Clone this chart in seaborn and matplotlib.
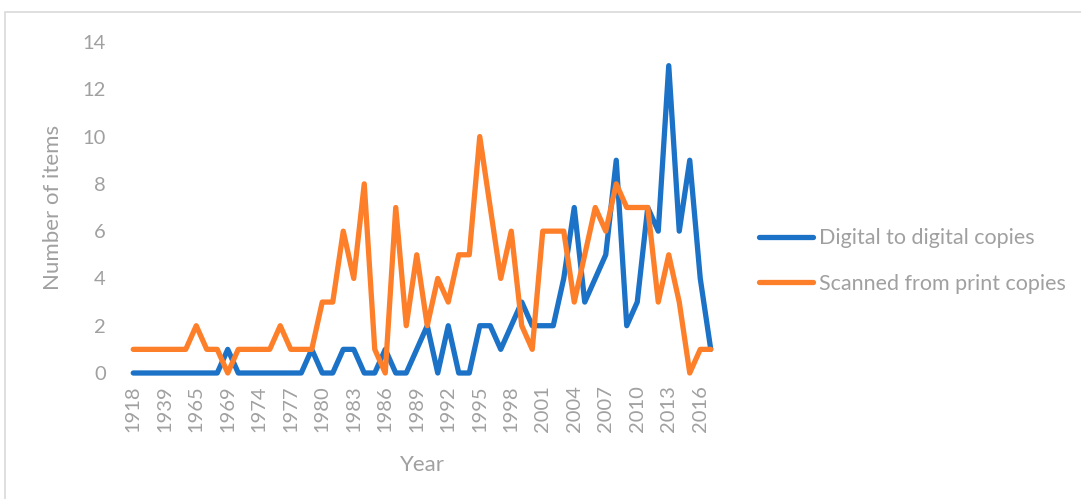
import matplotlib
matplotlib.use("Agg")
import matplotlib.pyplot as plt
import seaborn as sns
import pandas as pd
from matplotlib.patches import Rectangle
from matplotlib.lines import Line2D

years = ["1918", "1925", "1930", "1939", "1950", "1960", "1965", "1966", "1968",
         "1969", "1971", "1972", "1974", "1975", "1976", "1977", "1978", "1979"] + \
        [str(y) for y in range(1980, 2018)]

digital = [0, 0, 0, 0, 0, 0, 0, 0, 0, 1, 0, 0, 0, 0, 0, 0, 0, 1,
           0, 0, 1, 1, 0, 0, 1, 0, 0, 1, 2, 0, 2, 0, 0, 2, 2, 1, 2, 3, 2, 2,
           2, 4, 7, 3, 4, 5, 9, 2, 3, 7, 6, 13, 6, 9, 4, 1]

scanned = [1, 1, 1, 1, 1, 1, 2, 1, 1, 0, 1, 1, 1, 1, 2, 1, 1, 1,
           3, 3, 6, 4, 8, 1, 0, 7, 2, 5, 2, 4, 3, 5, 5, 10, 7, 4, 6, 2, 1, 6,
           6, 6, 3, 5, 7, 6, 8, 7, 7, 7, 3, 5, 3, 0, 1, 1]

series_names = ["Digital to digital copies", "Scanned from print copies"]
colors = ["#1b72c6", "#fe7f2a"]

df = pd.DataFrame({
    "Year": years * 2,
    "Count": digital + scanned,
    "Series": [series_names[0]] * len(years) + [series_names[1]] * len(years),
})

sns.set_theme(style="white")
plt.rcParams["font.family"] = ["Lato", "DejaVu Sans"]

W, H = 1081, 499
fig = plt.figure(figsize=(W / 100, H / 100), dpi=100)
ax = fig.add_axes([128 / W, 1 - 373 / H, (716 - 128) / W, (373 - 42) / H])

sns.lineplot(data=df, x="Year", y="Count", hue="Series", palette=colors,
             sort=False, linewidth=3.8, ax=ax, legend=False)
for ln in ax.lines:
    ln.set_clip_on(False)
    ln.set_solid_joinstyle("round")
    ln.set_solid_capstyle("round")

grey = "#a0a0a0"
ax.set_xlim(-0.5, len(years) - 0.5)
ax.set_ylim(0, 14)
ax.set_yticks(range(0, 15, 2))
ax.set_xticks(range(0, len(years), 3))
ax.set_xticklabels(years[::3], rotation=90)
ax.tick_params(axis="both", length=0, labelsize=14.5, colors=grey)
ax.tick_params(axis="x", pad=9)
ax.tick_params(axis="y", pad=16)
for s in ax.spines.values():
    s.set_visible(False)
ax.grid(False)

ax.set_xlabel("Year", fontsize=16, color=grey, labelpad=16)
ax.set_ylabel("Number of items", fontsize=16, color=grey, labelpad=14)

handles = [Line2D([0], [0], color=c, lw=3.8, solid_capstyle="round") for c in colors]
leg = fig.legend(handles, series_names, loc="center left",
                 bbox_to_anchor=(740 / W, 1 - 261 / H), frameon=False,
                 fontsize=15.5, handlelength=2.5, handletextpad=0.25,
                 labelspacing=1.2, labelcolor=grey)

fig.patches.append(Rectangle((5 / W, -0.05), 1.2, 1 - 12 / H + 0.05,
                             transform=fig.transFigure, fill=False,
                             edgecolor="#d9d9d9", linewidth=1.2))

fig.savefig("out.png", dpi=100)
